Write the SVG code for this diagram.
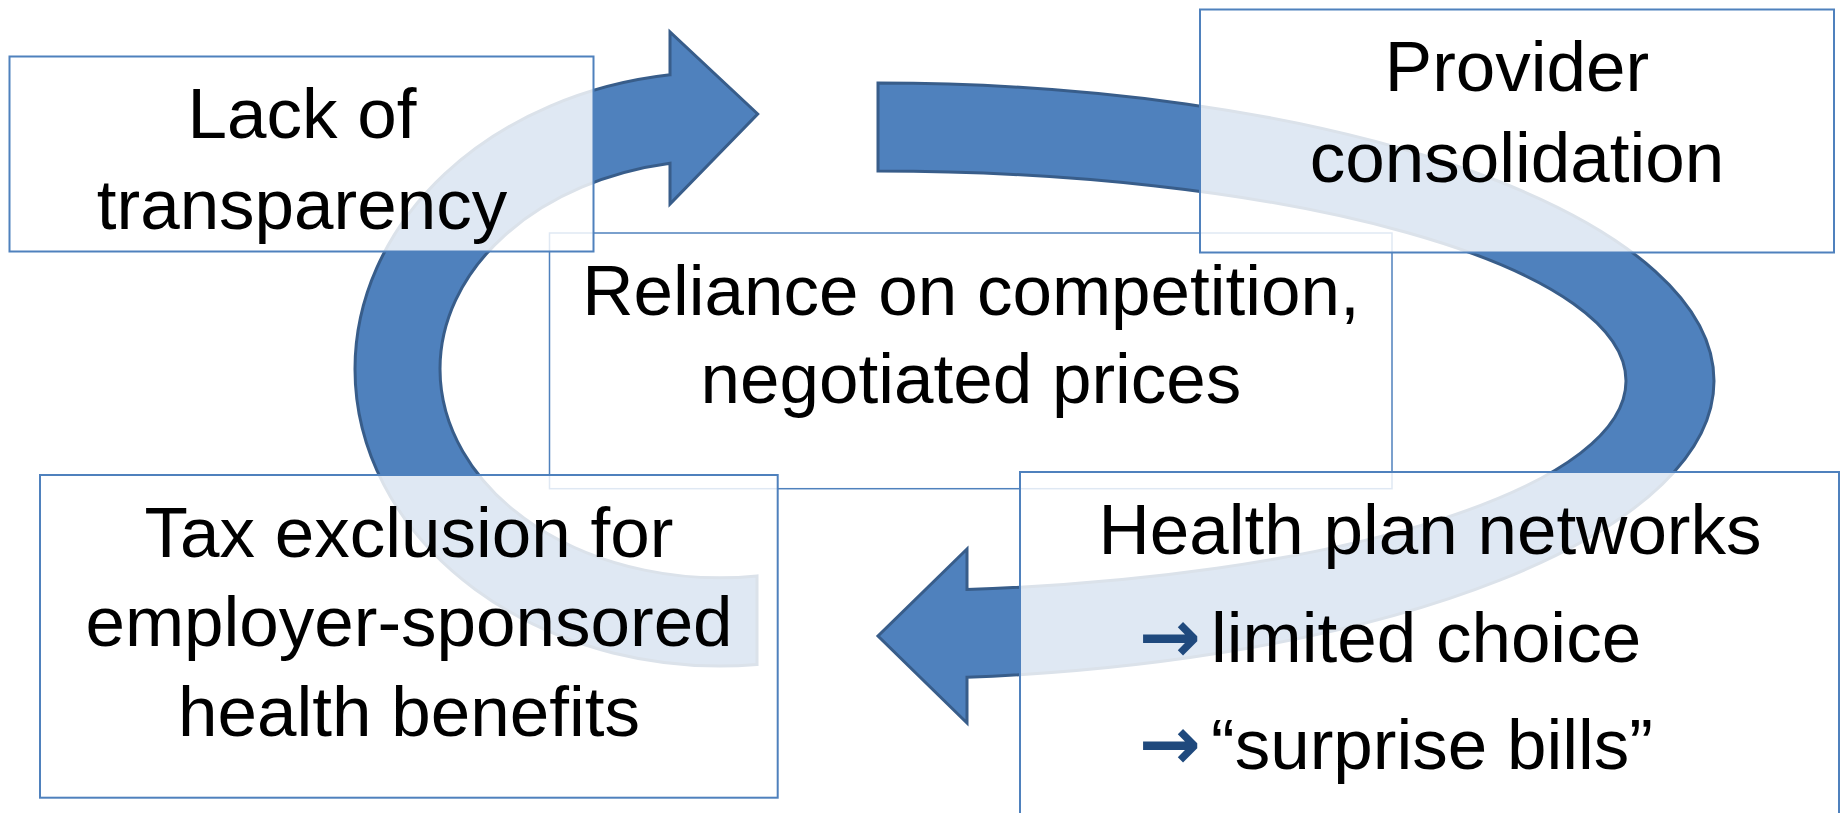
<svg xmlns="http://www.w3.org/2000/svg" width="1842" height="813" viewBox="0 0 1842 813">
<style>
.box{fill:#ffffff;fill-opacity:0.82;stroke:#4F81BD;stroke-width:2}
.box2{fill:#ffffff;fill-opacity:0.82;stroke:#4F81BD;stroke-width:1.5}
.arr{fill:#4F81BD;stroke:#385D8A;stroke-width:3;stroke-linejoin:miter}
.t{font-family:"Liberation Sans",Arial,sans-serif;font-size:71px;fill:#000000;text-anchor:middle}
.tl{font-family:"Liberation Sans",Arial,sans-serif;font-size:71px;fill:#000000}
.ar{font-family:"DejaVu Sans",sans-serif;font-weight:bold;font-size:74px;fill:#1F497D}
</style>
<rect width="1842" height="813" fill="#ffffff"/>
<g id="reliance">
<rect class="box2" x="549.5" y="233" width="842.5" height="255.7"/>
<text class="t" x="971" y="315">Reliance on competition,</text>
<text class="t" x="971" y="403">negotiated prices</text>
</g>
<g id="connectors">
<path class="arr" d="M 757 664.5 A 365 297 0 0 1 355 369 A 365 297 0 0 1 670 74.8 L 670 32 L 757.7 114 L 670 204 L 670 163.3 A 280 209 0 0 0 440 369 A 280 209 0 0 0 757 576 Z"/>
<path class="arr" d="M 878 83 A 836 298 0 0 1 1714 381 A 836 298 0 0 1 967 677.3 L 967 723 L 878 636 L 967 549 L 967 589.5 A 748 210 0 0 0 1626 381 A 748 210 0 0 0 878 171 Z"/>
</g>
<g id="lack">
<rect class="box" x="9.5" y="56.5" width="584" height="195"/>
<text class="t" x="302" y="138">Lack of</text>
<text class="t" x="302" y="229">transparency</text>
</g>
<g id="provider">
<rect class="box" x="1200" y="9.5" width="634" height="243"/>
<text class="t" x="1517" y="91">Provider</text>
<text class="t" x="1517" y="182">consolidation</text>
</g>
<g id="tax">
<rect class="box" x="40" y="475" width="737.7" height="322.7"/>
<text class="t" x="409" y="557">Tax exclusion for</text>
<text class="t" x="409" y="646">employer-sponsored</text>
<text class="t" x="409" y="736">health benefits</text>
</g>
<g id="health">
<rect class="box" x="1020" y="472" width="819" height="360"/>
<text class="t" x="1430" y="554">Health plan networks</text>
<text class="ar" x="1139" y="662">→</text>
<text class="tl" x="1211" y="662">limited choice</text>
<text class="ar" x="1139" y="769">→</text>
<text class="tl" x="1211" y="769">“surprise bills”</text>
</g>
</svg>
